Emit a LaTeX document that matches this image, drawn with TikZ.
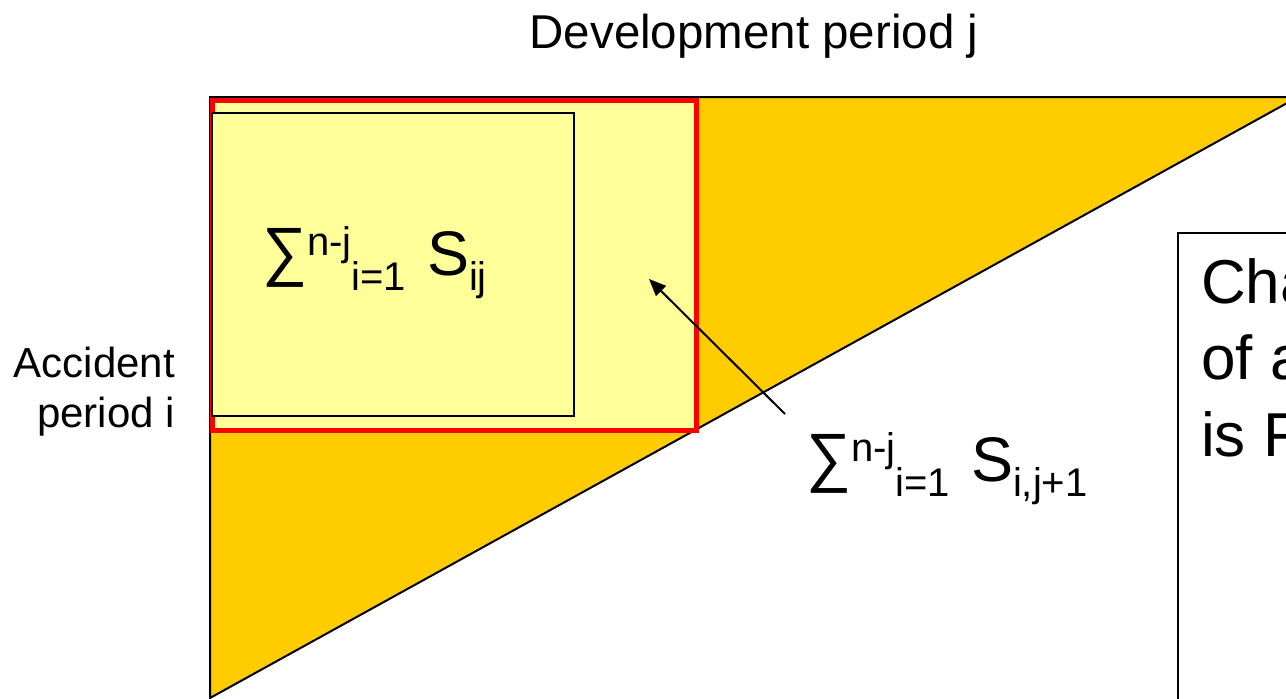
\documentclass[tikz,border=0pt]{standalone}
\usepackage{fontspec}
\usepackage{graphicx}
\setmainfont{Liberation Sans}
\usetikzlibrary{arrows.meta}
\definecolor{gold}{HTML}{FFCC00}
\definecolor{paleyellow}{HTML}{FFFF99}
\newcommand{\myfs}[1]{\fontsize{#1}{#1}\selectfont}
\newcommand{\supx}[1]{\raisebox{19.5pt}{\myfs{40}#1}}
\newcommand{\subx}[1]{\raisebox{-15.5pt}{\myfs{40}#1}}
\newcommand{\bigsum}{\raisebox{2pt}{\scalebox{1}[1.04]{∑}}}
\tikzset{
  thinbox/.style={draw=black, line width=1.5pt, inner sep=0pt, anchor=north west},
  formula/.style={anchor=base west, inner sep=0pt, font=\myfs{63}},
  pointer/.style={line width=2pt, -{Triangle[length=17pt,width=14pt]}},
}
\begin{document}
\begin{tikzpicture}[x=1pt,y=-1pt]
\useasboundingbox (0,0) rectangle (1286,699);
\clip (0,0) rectangle (1286,699);
% triangle of known data
\coordinate (tl) at (210,97);
\coordinate (apex) at (1298,97);
\coordinate (bl) at (210,698);
\draw[fill=gold, line width=2pt] (tl) -- (apex) -- (bl) -- cycle;
% red box
\node[draw=red, line width=5pt, fill=paleyellow, inner sep=0pt, anchor=north west,
      minimum width=484pt, minimum height=330.5pt] (redbox) at (210,97.5) {};
% inner box
\node[thinbox, fill=paleyellow, minimum width=362pt, minimum height=303pt] (inner) at (211,112) {};
% formulas
\node[formula] (f1) at (262,275) {\bigsum\supx{n-j}\subx{i=1}\hspace{21pt}S\subx{ij}};
\node[formula] (f2) at (806,481) {\bigsum\supx{n-j}\subx{i=1}\hspace{21pt}S\subx{i,j+1}};
% arrow
\coordinate (astart) at (785,414);
\coordinate (atip) at (649,279);
\draw[pointer] (astart) -- (atip);
% axis labels
\node[anchor=base, inner sep=0pt, font=\myfs{47.5}] (devj) at (754,48) {Development period j};
\node[anchor=base east, align=right, inner sep=0pt, font=\fontsize{42}{50}\selectfont] (acci) at (175,427) {Accident\\period i};
% right text box (cut by the picture edge)
\node[thinbox, minimum width=200pt, minimum height=520pt] (rbox) at (1177,232) {};
\node[anchor=base west, align=left, inner sep=0pt, font=\fontsize{62}{76.5}\selectfont] (rtext) at (1201,456) {Cha\\of a\\is F};
\end{tikzpicture}
\end{document}
